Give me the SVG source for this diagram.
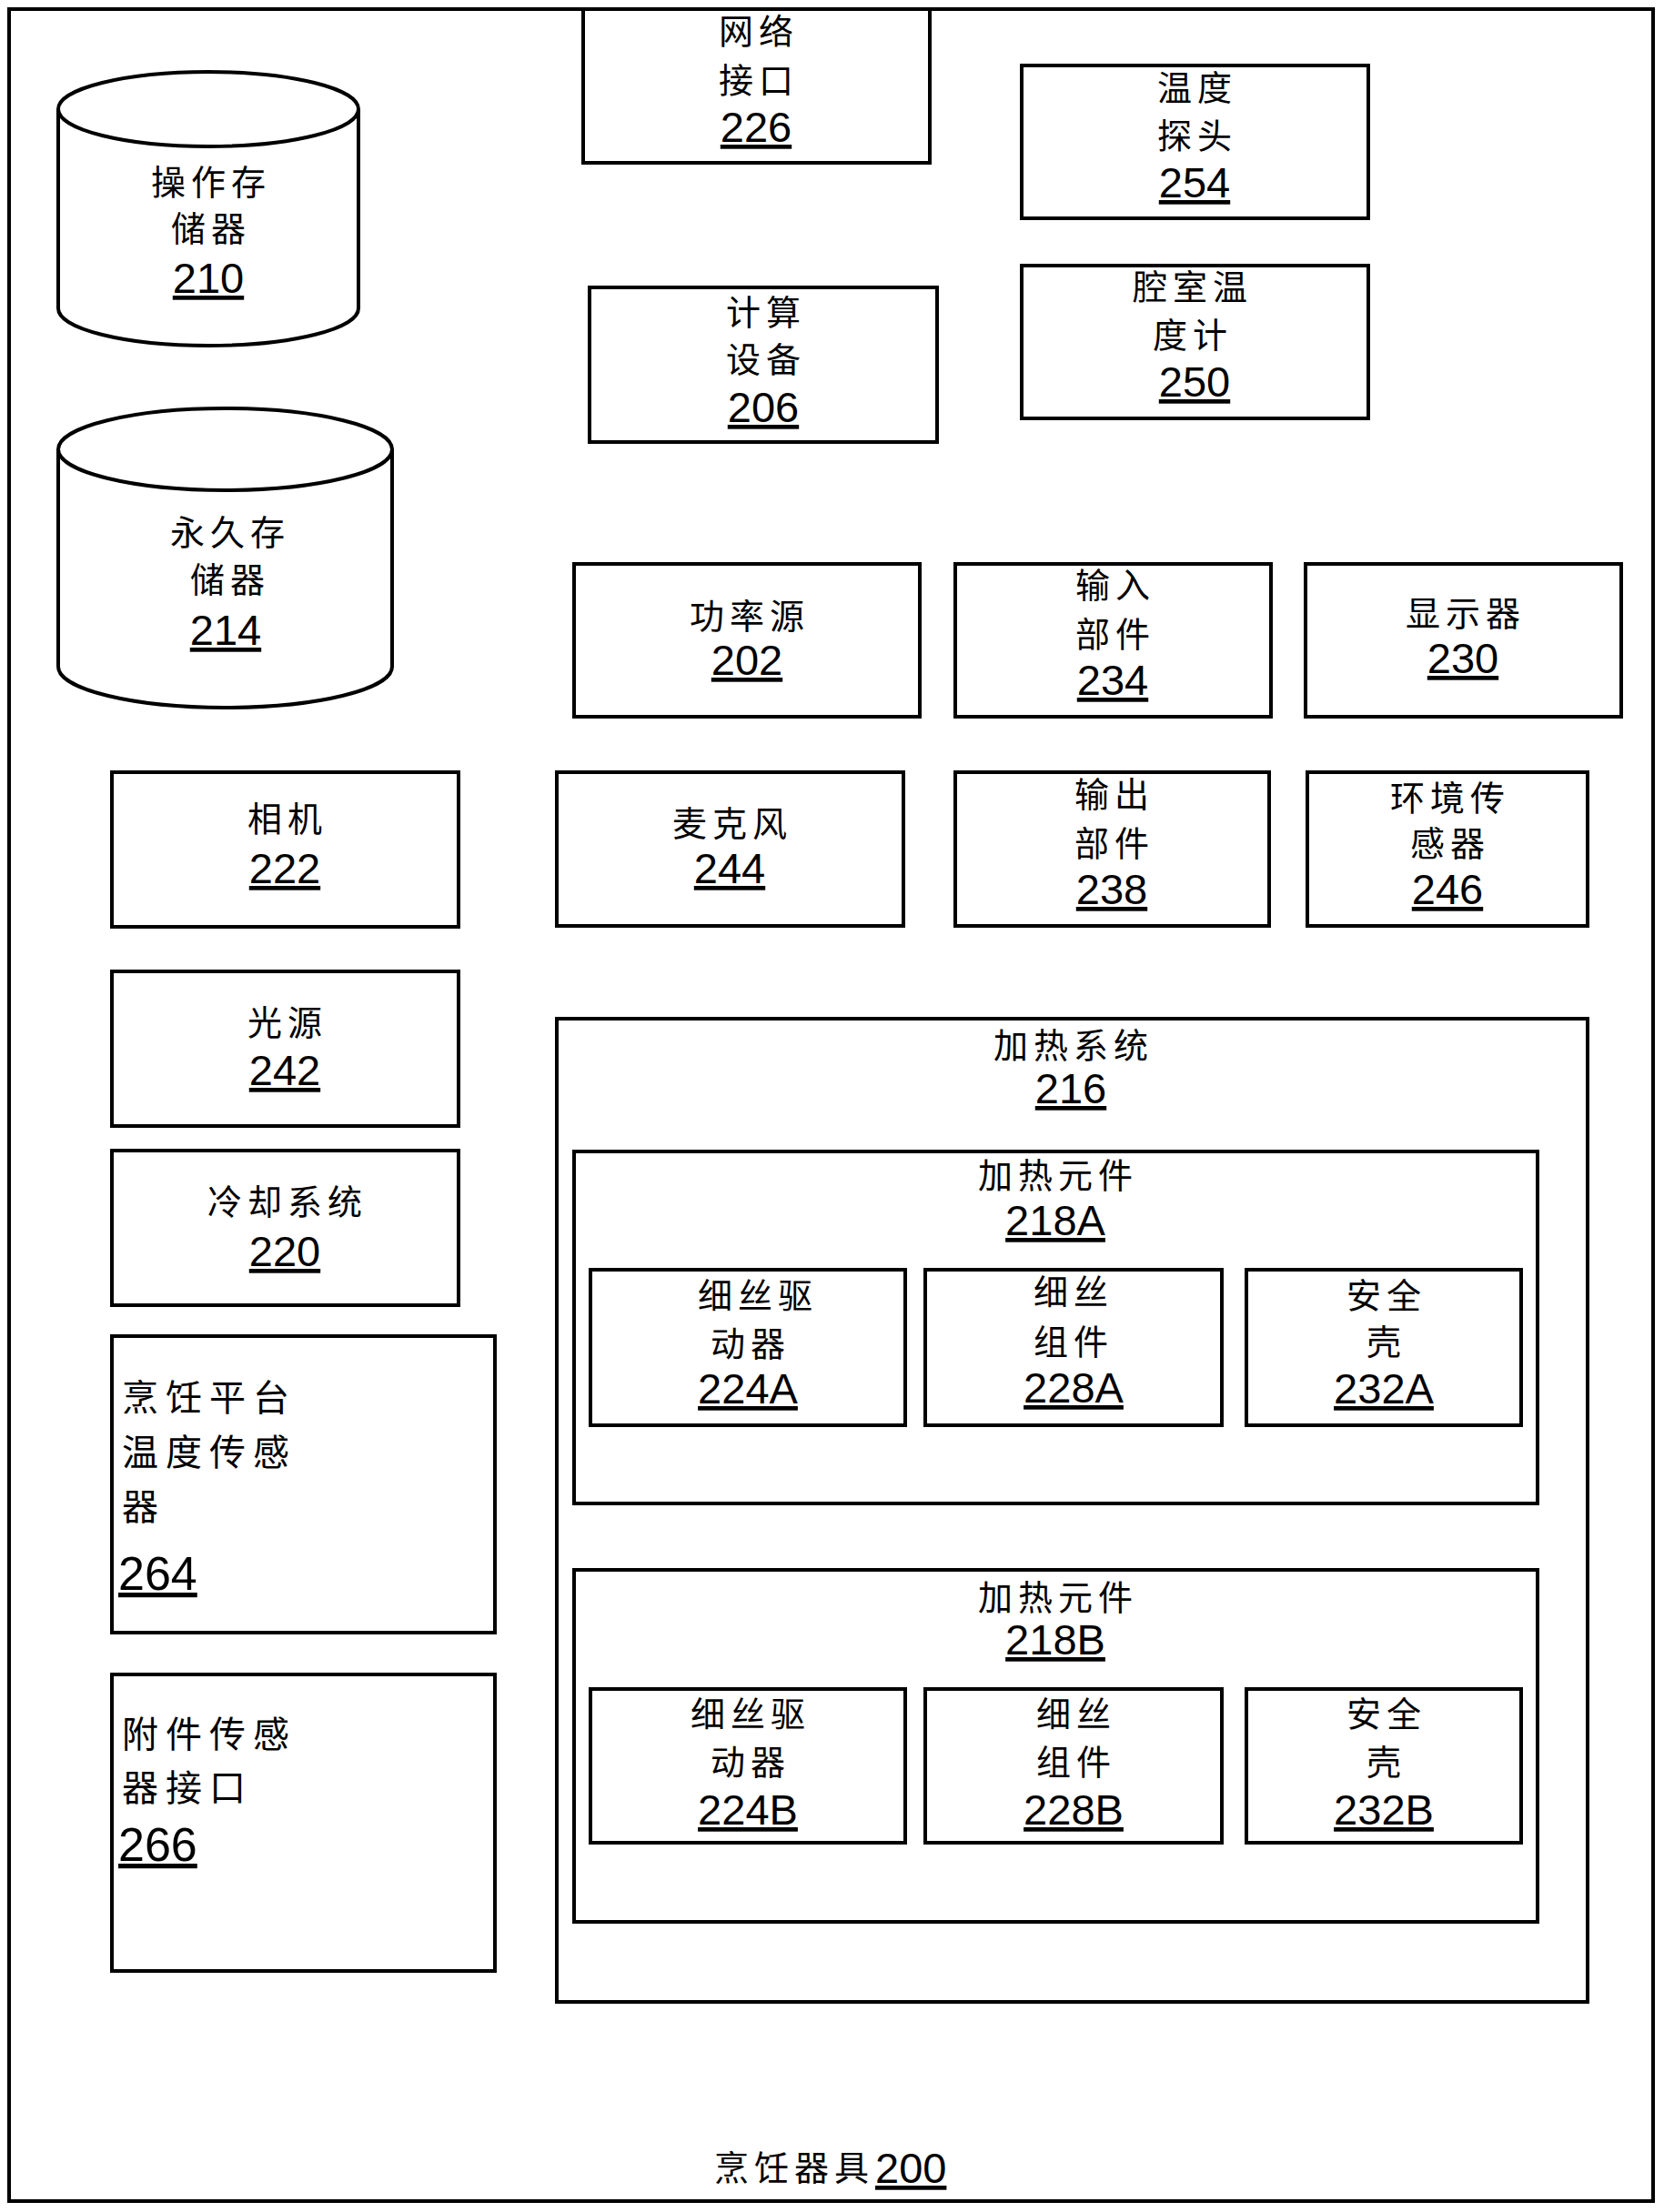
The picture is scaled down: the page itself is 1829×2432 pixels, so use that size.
<svg xmlns="http://www.w3.org/2000/svg" width="1829" height="2432" viewBox="0 0 1829 2432">
<style>
.b{fill:#fff;stroke:#000;stroke-width:4}
.c{fill:#fff;stroke:#000;stroke-width:4}
.cj{font-family:"Noto Sans CJK SC","Noto Sans CJK JP",sans-serif;font-size:38px;letter-spacing:6px;text-anchor:middle;fill:#000}
.cl{font-family:"Noto Sans CJK SC","Noto Sans CJK JP",sans-serif;font-size:40px;letter-spacing:8px;fill:#000}
.n{font-family:"Liberation Sans",Arial,sans-serif;font-size:47px;text-anchor:middle;text-decoration:underline;fill:#000}
.nl{font-family:"Liberation Sans",Arial,sans-serif;font-size:52px;text-decoration:underline;fill:#000}
</style>
<rect x="0" y="0" width="1829" height="2432" fill="#fff"/>
<g id="n200">
<rect class="b" x="10" y="10" width="1807" height="2410"/>
<text class="cj" x="785" y="2397" style="text-anchor:start">烹饪器具</text>
<text class="n" x="962" y="2400" style="text-anchor:start">200</text>
</g>
<g id="connectors"></g>
<g id="n210">
<path class="c" d="M64,120 A165,41 0 0,1 394,120 L394,339 A165,41 0 0,1 64,339 Z"/>
<path fill="none" stroke="#000" stroke-width="4" d="M64,120 A165,41 0 0,0 394,120"/>
<text class="cj" x="232" y="214">操作存</text>
<text class="cj" x="232" y="265">储器</text>
<text class="n" x="229" y="322">210</text>
</g>
<g id="n214">
<path class="c" d="M64,494 A183.5,45 0 0,1 431,494 L431,733 A183.5,45 0 0,1 64,733 Z"/>
<path fill="none" stroke="#000" stroke-width="4" d="M64,494 A183.5,45 0 0,0 431,494"/>
<text class="cj" x="253" y="599">永久存</text>
<text class="cj" x="253" y="651">储器</text>
<text class="n" x="248" y="709">214</text>
</g>
<g id="n226">
<rect class="b" x="641" y="10" width="381" height="169"/>
<text class="cj" x="834" y="48">网络</text>
<text class="cj" x="834" y="102">接口</text>
<text class="n" x="831" y="156">226</text>
</g>
<g id="n206">
<rect class="b" x="648" y="316" width="382" height="170"/>
<text class="cj" x="842" y="357">计算</text>
<text class="cj" x="842" y="409">设备</text>
<text class="n" x="839" y="464">206</text>
</g>
<g id="n254">
<rect class="b" x="1123" y="72" width="381" height="168"/>
<text class="cj" x="1316" y="110">温度</text>
<text class="cj" x="1316" y="163">探头</text>
<text class="n" x="1313" y="217">254</text>
</g>
<g id="n250">
<rect class="b" x="1123" y="292" width="381" height="168"/>
<text class="cj" x="1311" y="329">腔室温</text>
<text class="cj" x="1311" y="382">度计</text>
<text class="n" x="1313" y="436">250</text>
</g>
<g id="n202">
<rect class="b" x="631" y="620" width="380" height="168"/>
<text class="cj" x="824" y="691">功率源</text>
<text class="n" x="821" y="742">202</text>
</g>
<g id="n234">
<rect class="b" x="1050" y="620" width="347" height="168"/>
<text class="cj" x="1226" y="657">输入</text>
<text class="cj" x="1226" y="711">部件</text>
<text class="n" x="1223" y="764">234</text>
</g>
<g id="n230">
<rect class="b" x="1435" y="620" width="347" height="168"/>
<text class="cj" x="1611" y="688">显示器</text>
<text class="n" x="1608" y="740">230</text>
</g>
<g id="n222">
<rect class="b" x="123" y="849" width="381" height="170"/>
<text class="cj" x="316" y="914">相机</text>
<text class="n" x="313" y="971">222</text>
</g>
<g id="n244">
<rect class="b" x="612" y="849" width="381" height="169"/>
<text class="cj" x="805" y="919">麦克风</text>
<text class="n" x="802" y="971">244</text>
</g>
<g id="n238">
<rect class="b" x="1050" y="849" width="345" height="169"/>
<text class="cj" x="1225" y="887">输出</text>
<text class="cj" x="1225" y="941">部件</text>
<text class="n" x="1222" y="994">238</text>
</g>
<g id="n246">
<rect class="b" x="1437" y="849" width="308" height="169"/>
<text class="cj" x="1594" y="891">环境传</text>
<text class="cj" x="1594" y="941">感器</text>
<text class="n" x="1591" y="994">246</text>
</g>
<g id="n242">
<rect class="b" x="123" y="1068" width="381" height="170"/>
<text class="cj" x="316" y="1138">光源</text>
<text class="n" x="313" y="1193">242</text>
</g>
<g id="n220">
<rect class="b" x="123" y="1265" width="381" height="170"/>
<text class="cj" x="316" y="1335">冷却系统</text>
<text class="n" x="313" y="1392">220</text>
</g>
<g id="n264">
<rect class="b" x="123" y="1469" width="421" height="326"/>
<text class="cl" x="134" y="1551">烹饪平台</text>
<text class="cl" x="134" y="1611">温度传感</text>
<text class="cl" x="134" y="1671">器</text>
<text class="nl" x="130" y="1748">264</text>
</g>
<g id="n266">
<rect class="b" x="123" y="1841" width="421" height="326"/>
<text class="cl" x="134" y="1921">附件传感</text>
<text class="cl" x="134" y="1980">器接口</text>
<text class="nl" x="130" y="2046">266</text>
</g>
<g id="n216">
<rect class="b" x="612" y="1120" width="1133" height="1081"/>
<text class="cj" x="1180" y="1163">加热系统</text>
<text class="n" x="1177" y="1213">216</text>
</g>
<g id="n218A">
<rect class="b" x="631" y="1266" width="1059" height="387"/>
<text class="cj" x="1163" y="1306">加热元件</text>
<text class="n" x="1160" y="1358">218A</text>
</g>
<g id="n224A">
<rect class="b" x="649" y="1396" width="346" height="171"/>
<text class="cj" x="833" y="1438">细丝驱</text>
<text class="cj" x="825" y="1491">动器</text>
<text class="n" x="822" y="1543">224A</text>
</g>
<g id="n228A">
<rect class="b" x="1017" y="1396" width="326" height="171"/>
<text class="cj" x="1180" y="1434">细丝</text>
<text class="cj" x="1180" y="1489">组件</text>
<text class="n" x="1180" y="1542">228A</text>
</g>
<g id="n232A">
<rect class="b" x="1370" y="1396" width="302" height="171"/>
<text class="cj" x="1524" y="1438">安全</text>
<text class="cj" x="1524" y="1489">壳</text>
<text class="n" x="1521" y="1543">232A</text>
</g>
<g id="n218B">
<rect class="b" x="631" y="1726" width="1059" height="387"/>
<text class="cj" x="1163" y="1770">加热元件</text>
<text class="n" x="1160" y="1819">218B</text>
</g>
<g id="n224B">
<rect class="b" x="649" y="1857" width="346" height="169"/>
<text class="cj" x="825" y="1898">细丝驱</text>
<text class="cj" x="825" y="1951">动器</text>
<text class="n" x="822" y="2006">224B</text>
</g>
<g id="n228B">
<rect class="b" x="1017" y="1857" width="326" height="169"/>
<text class="cj" x="1183" y="1898">细丝</text>
<text class="cj" x="1183" y="1951">组件</text>
<text class="n" x="1180" y="2006">228B</text>
</g>
<g id="n232B">
<rect class="b" x="1370" y="1857" width="302" height="169"/>
<text class="cj" x="1524" y="1898">安全</text>
<text class="cj" x="1524" y="1951">壳</text>
<text class="n" x="1521" y="2006">232B</text>
</g>
</svg>
